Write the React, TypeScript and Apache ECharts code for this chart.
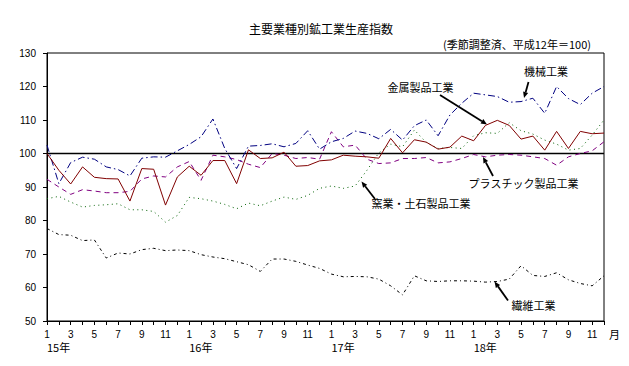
import React, { useEffect, useRef } from "react";
import * as echarts from "echarts";

const years = ["15年", "16年", "17年", "18年"];
const months = [1, 2, 3, 4, 5, 6, 7, 8, 9, 10, 11, 12];
const yMin = 50;
const yMax = 130;
const yStep = 10;

// 機械工業
const machinery = [
  102.5, 91, 97.3, 98.9, 98.3, 96, 95.2, 93.3, 98.6, 99, 98.9, 100.8,
  102.7, 105, 110.3, 101.5, 95.5, 102.2, 102.4, 102.9, 102, 103, 106.8, 101.3,
  103.5, 104.5, 106.7, 106, 104.4, 107.2, 104, 108.3, 110, 105.3, 111.5, 115,
  118, 117.5, 117, 115.3, 115.5, 116.5, 112, 120, 116.4, 114.6, 118, 120,
];
// 金属製品工業
const metal = [
  100, 95, 90.9, 96, 92.9, 92.5, 92.4, 85.8, 95.5, 95.3, 84.6, 93,
  96.2, 93.5, 97.9, 97.9, 91, 101.1, 98.5, 98.7, 100.4, 96.2, 96.4, 97.8,
  98.1, 99.5, 99.2, 99, 98.6, 104.5, 100.2, 104.1, 103.4, 101.3, 101.9, 105.2,
  103.8, 108.4, 109.9, 108.4, 104.3, 105.2, 101, 106.6, 101.5, 106.6, 105.9, 106.1,
];
// プラスチック製品工業
const plastics = [
  92.3, 90, 87.8, 89.2, 88.8, 88.3, 88.3, 88.7, 92.4, 93.3, 93, 96,
  97.6, 92, 99.5, 99, 98.2, 96.8, 95.8, 100, 99.5, 98.5, 98.8, 98.3,
  106.5, 102, 102.5, 98.3, 97, 97.2, 98.5, 98.5, 98.8, 97.2, 97.5, 98.5,
  99.7, 99, 99.5, 99.7, 99.5, 99, 98.5, 96.5, 99, 100, 100.8, 103.5,
];
// 窯業・土石製品工業
const ceramics = [
  86.5, 87.2, 85.5, 84, 84.5, 84.7, 85, 83.2, 83.2, 82.7, 79.5, 81.5,
  86.9, 86.5, 85.8, 84.8, 83.5, 85.2, 84.4, 85.8, 87, 86.3, 87.5, 89.6,
  90.3, 89.6, 90.3, 95, 100.2, 102.8, 102, 107, 103.3, 101.5, 101.8, 101.5,
  105.3, 106.2, 106, 109.2, 106.8, 105.8, 104, 102.8, 101, 101.5, 105.5, 110,
];
// 繊維工業
const textile = [
  77.6, 75.8, 75.6, 74, 74.2, 68.8, 70.3, 70, 71.3, 71.7, 71, 71.2,
  71, 69.8, 69.1, 68.6, 67.7, 66.8, 64.8, 68.5, 68.5, 67.8, 66.7, 65.7,
  64, 63.2, 63.3, 63.2, 62.5, 60.5, 57.8, 63.5, 62, 61.8, 62, 62,
  61.9, 61.6, 61.8, 62.5, 66.5, 63.6, 63.3, 64.4, 62.3, 61.2, 60.5, 63.5,
];

const categories: string[] = [];
years.forEach((y) => months.forEach((m) => categories.push(`${y}|${m}`)));

const JP = "'Noto Sans CJK JP', 'Liberation Sans', sans-serif";
const NUM = "'Liberation Sans', 'Noto Sans CJK JP', sans-serif";

function arrow(x1: number, y1: number, x2: number, y2: number) {
  const dx = x2 - x1;
  const dy = y2 - y1;
  const len = Math.sqrt(dx * dx + dy * dy);
  const ux = dx / len;
  const uy = dy / len;
  const head = 6;
  const w = 2.6;
  const bx = x2 - ux * head;
  const by = y2 - uy * head;
  const px = -uy;
  const py = ux;
  return [
    {
      type: "line",
      shape: { x1, y1, x2: bx, y2: by },
      style: { stroke: "#000", lineWidth: 1.8 },
    },
    {
      type: "polygon",
      shape: {
        points: [
          [x2, y2],
          [bx + px * w, by + py * w],
          [bx - px * w, by - py * w],
        ],
      },
      style: { fill: "#000" },
    },
  ];
}

function label(text: string, x: number, y: number, size = 11) {
  return {
    type: "text",
    x,
    y,
    style: {
      text,
      fill: "#000",
      font: `${size}px ${JP}`,
      align: "center",
      verticalAlign: "middle",
    },
  };
}

export default function App() {
  const ref = useRef<HTMLDivElement>(null);

  useEffect(() => {
    if (!ref.current) return;
    const chart = echarts.init(ref.current, null, { renderer: "svg" });
    const lineSeries = (
      name: string,
      data: number[],
      color: string,
      type: any,
      z: number
    ) => ({
      name,
      type: "line",
      data,
      xAxisIndex: 0,
      symbol: "none",
      showSymbol: false,
      z,
      lineStyle: { color, width: 1, type },
      itemStyle: { color },
    });

    const option: any = {
      animation: false,
      backgroundColor: "#fff",
      textStyle: { fontFamily: NUM, color: "#000" },
      title: [
        {
          text: "主要業種別鉱工業生産指数",
          left: 321,
          top: 22,
          padding: 0,
          textAlign: "center",
          textStyle: { fontFamily: JP, fontSize: 12, fontWeight: "normal", color: "#000" },
        },
        {
          text: "(季節調整済、平成12年＝100)",
          left: 517,
          top: 38,
          padding: 0,
          textAlign: "center",
          textStyle: { fontFamily: JP, fontSize: 11, fontWeight: "normal", color: "#000" },
        },
      ],
      grid: {
        left: 47,
        right: 25,
        top: 53,
        bottom: 45,
        show: true,
        borderColor: "#000",
        borderWidth: 1,
        backgroundColor: "transparent",
      },
      xAxis: [
        {
          type: "category",
          position: "bottom",
          data: categories,
          boundaryGap: false,
          axisLine: { show: true, lineStyle: { color: "#000", width: 1 } },
          axisTick: { show: true, interval: 0, inside: false, length: 4, lineStyle: { color: "#000" } },
          axisLabel: {
            interval: 1,
            margin: 8,
            fontSize: 10,
            fontFamily: NUM,
            color: "#000",
            formatter: (v: string) => v.split("|")[1],
          },
          splitLine: { show: false },
        },
        {
          type: "category",
          position: "bottom",
          data: categories,
          boundaryGap: false,
          axisLine: { show: false },
          axisTick: { show: false },
          axisLabel: {
            interval: 0,
            margin: 20,
            align: "left",
            fontSize: 11,
            fontFamily: JP,
            color: "#000",
            formatter: (v: string) => {
              const [y, m] = v.split("|");
              return m === "1" ? y : "";
            },
          },
          splitLine: { show: false },
        },
      ],
      yAxis: {
        type: "value",
        min: yMin,
        max: yMax,
        interval: yStep,
        axisLine: { show: true, lineStyle: { color: "#000", width: 1 } },
        axisTick: { show: true, inside: false, length: 4, lineStyle: { color: "#000" } },
        axisLabel: { margin: 11, fontSize: 10, fontFamily: NUM, color: "#000" },
        splitLine: { show: false },
      },
      series: [
        lineSeries("繊維工業", textile, "#000000", [3, 3, 1, 3], 2),
        lineSeries("窯業・土石製品工業", ceramics, "#006000", [1, 3.5], 3),
        lineSeries("プラスチック製品工業", plastics, "#800080", [5, 4], 4),
        lineSeries("機械工業", machinery, "#000080", [7, 3, 1.5, 3], 5),
        {
          ...lineSeries("金属製品工業", metal, "#800000", "solid", 6),
          markLine: {
            silent: true,
            symbol: ["none", "none"],
            label: { show: false },
            lineStyle: { color: "#000", width: 1.3, type: "solid" },
            data: [{ yAxis: 100 }],
            z: 1,
          },
        },
      ],
      graphic: [
        label("機械工業", 546, 71),
        ...arrow(528.5, 82, 524, 98),
        label("金属製品工業", 420.5, 87),
        ...arrow(440, 95, 487, 124.5),
        label("プラスチック製品工業", 523.5, 183),
        ...arrow(493, 176, 483, 157),
        label("窯業・土石製品工業", 421, 203),
        ...arrow(375, 199, 361.5, 181.5),
        label("繊維工業", 533.5, 304.5),
        ...arrow(508, 300.5, 494.5, 281.5),
        {
          type: "text",
          x: 609,
          y: 334,
          style: { text: "月", fill: "#000", font: `11px ${JP}`, verticalAlign: "middle" },
        },
      ],
    };
    chart.setOption(option);
    return () => chart.dispose();
  }, []);

  return (
    <div
      ref={ref}
      style={{ position: "absolute", left: 0, top: 0, width: 629, height: 366 }}
    />
  );
}
